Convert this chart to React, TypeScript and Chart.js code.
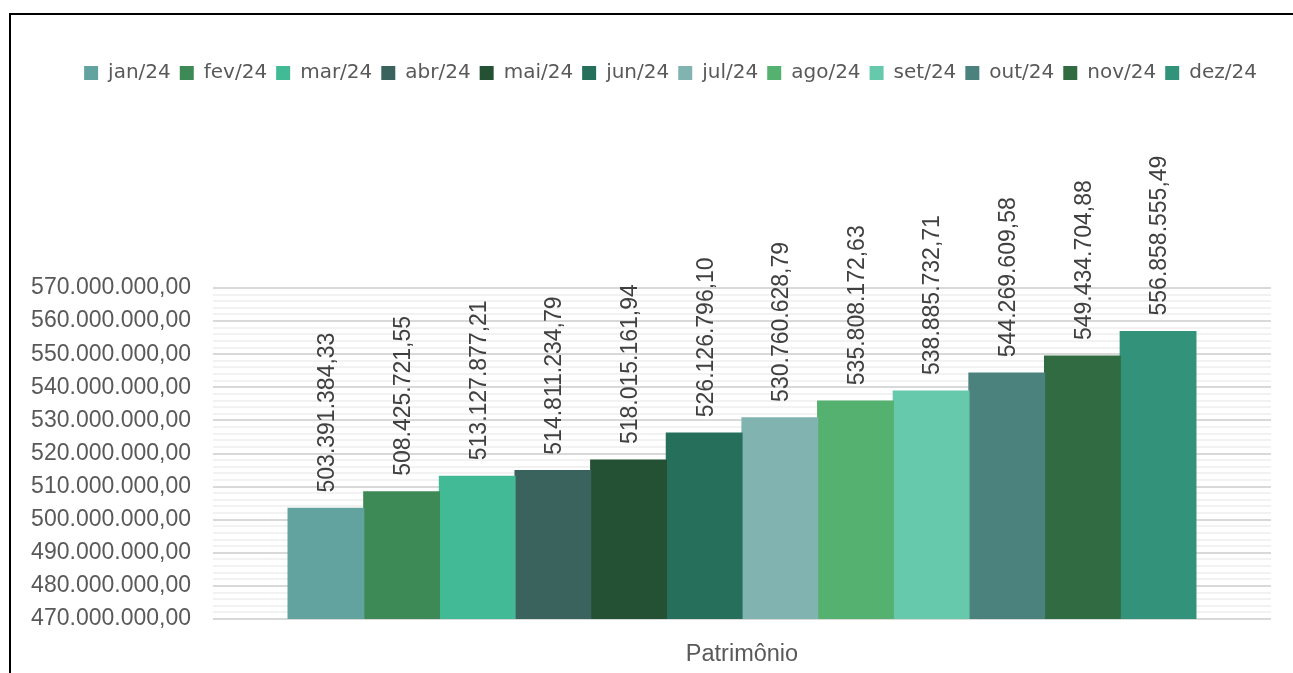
import React, { useEffect, useRef } from "react";
import { Chart, registerables } from "chart.js";

Chart.register(...registerables);

const categories = ["Patrimônio"];
const months = ["jan/24", "fev/24", "mar/24", "abr/24", "mai/24", "jun/24", "jul/24", "ago/24", "set/24", "out/24", "nov/24", "dez/24"];
const values = [
  503391384.33, 508425721.55, 513127877.21, 514811234.79, 518015161.94, 526126796.1,
  530760628.79, 535808172.63, 538885732.71, 544269609.58, 549434704.88, 556858555.49,
];
const colors = ["#62A39F", "#3D8A56", "#43BA96", "#3A635E", "#245033", "#26705B", "#81B4B0", "#55B16F", "#66C9AC", "#4C827E", "#316B41", "#32927A"];
const yMin = 470000000;
const yMax = 570000000;
const yStep = 2000000;
const yMajor = 10000000;

function fmt(v: number): string {
  const [i, d] = v.toFixed(2).split(".");
  return i.replace(/\B(?=(\d{3})+(?!\d))/g, ".") + "," + d;
}

const W = 1293;
const H = 673;
const FONT = "'Liberation Sans', Arial, sans-serif";
const TOP_PAD = 54;

export default function App() {
  const ref = useRef<HTMLCanvasElement | null>(null);
  useEffect(() => {
    if (!ref.current) return;
    const legendPlugin = {
      id: "legendTweak",
      beforeInit(chart: any) {
        const lg = chart.legend;
        if (!lg) return;
        const orig = lg.fit.bind(lg);
        lg.fit = function () {
          orig();
          this.height = 288 - TOP_PAD;
        };
      },
      beforeDraw(chart: any) {
        const lg = chart.legend;
        if (!lg) return;
        lg.left += 26;
        lg.right += 26;
      },
    };
    const dataLabels = {
      id: "dataLabels",
      afterDatasetsDraw(chart: any) {
        const ctx = chart.ctx;
        ctx.save();
        ctx.font = `23px ${FONT}`;
        ctx.fillStyle = "#404040";
        ctx.textAlign = "left";
        ctx.textBaseline = "middle";
        chart.data.datasets.forEach((ds: any, i: number) => {
          const meta = chart.getDatasetMeta(i);
          meta.data.forEach((el: any, j: number) => {
            ctx.save();
            ctx.translate(el.x + 2, el.y - 16);
            ctx.rotate(-Math.PI / 2);
            ctx.fillText(fmt(ds.data[j]), 0, 0);
            ctx.restore();
          });
        });
        ctx.restore();
      },
    };
    const chart = new Chart(ref.current, {
      type: "bar",
      data: {
        labels: categories,
        datasets: months.map((m, i) => ({
          label: m,
          data: [values[i]],
          backgroundColor: colors[i],
          borderWidth: 0,
          inflateAmount: 0.6,
          categoryPercentage: 0.858,
          barPercentage: 1,
        })),
      },
      options: {
        animation: false,
        responsive: false,
        maintainAspectRatio: false,
        layout: { padding: { left: 18, right: 22, top: TOP_PAD, bottom: 0 } },
        plugins: {
          legend: {
            position: "top",
            labels: {
              boxWidth: 14,
              boxHeight: 14,
              padding: 9,
              color: "#595959",
              font: { family: "'DejaVu Sans', sans-serif", size: 20 },
            },
          },
          tooltip: { enabled: false },
        },
        scales: {
          x: {
            grid: { display: false },
            border: { display: false },
            ticks: { color: "#595959", font: { family: FONT, size: 23.5 }, padding: 13 },
            afterFit(scale: any) {
              scale.height = 54;
            },
          },
          y: {
            min: yMin,
            max: yMax,
            border: { display: false },
            grid: {
              drawTicks: false,
              lineWidth: 2,
              color: (c: any) => (Math.round(c.tick.value) % yMajor === 0 ? "#D9D9D9" : "#F2F2F2"),
            },
            ticks: {
              stepSize: yStep,
              autoSkip: false,
              padding: 22,
              color: "#595959",
              font: { family: FONT, size: 23 },
              callback: (v: any) => (Math.round(Number(v)) % yMajor === 0 ? fmt(Number(v)) : ""),
            },
            afterFit(scale: any) {
              scale.width = 195;
            },
          },
        },
      },
      plugins: [legendPlugin, dataLabels],
    } as any);
    return () => chart.destroy();
  }, []);
  return (
    <div style={{ position: "absolute", left: 0, top: 0, width: W, height: H, background: "#fff", overflow: "hidden" }}>
      <canvas ref={ref} width={W} height={H} style={{ position: "absolute", left: 0, top: 0, width: W, height: H }} />
      <div
        style={{
          position: "absolute",
          left: 9,
          top: 13,
          width: W,
          height: H,
          borderTop: "2px solid #000",
          borderLeft: "2px solid #000",
          pointerEvents: "none",
        }}
      />
    </div>
  );
}
